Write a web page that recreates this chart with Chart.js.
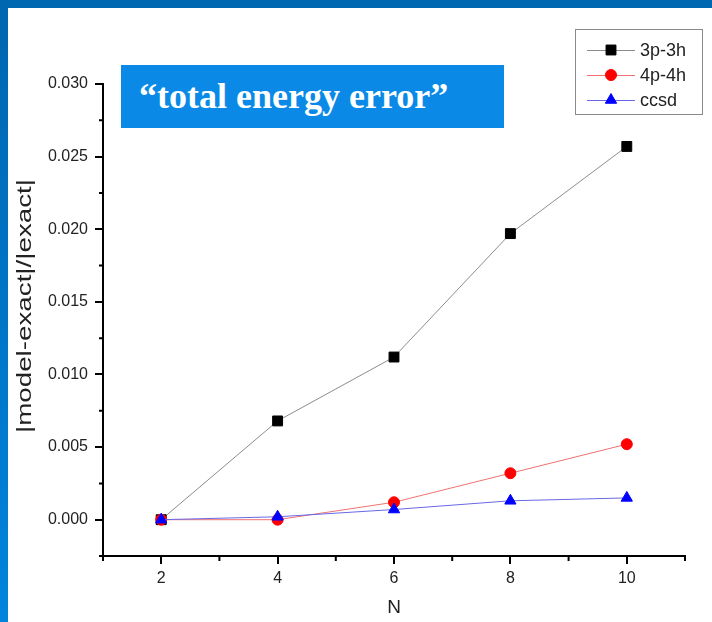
<!DOCTYPE html>
<html>
<head>
<meta charset="utf-8">
<script src="https://cdn.jsdelivr.net/npm/chart.js@4/dist/chart.umd.min.js"></script>
<style>
  html, body { margin: 0; padding: 0; background: #fff; }
  #wrap { position: relative; width: 712px; height: 622px; overflow: hidden; background: #fff; }
  #chart { position: absolute; left: 0; top: 0; }
  .frame-top { position: absolute; left: 0; top: 0; width: 712px; height: 8px; background: #0067b1; }
  .frame-left { position: absolute; left: 0; top: 0; width: 8px; height: 622px; background: linear-gradient(#0066b0, #0084dc); }
  .banner {
    position: absolute; left: 121px; top: 65px; width: 383px; height: 63px;
    background: #0a8ae6; color: #fff;
    font: bold 36px "Liberation Serif", "Times New Roman", serif;
    line-height: 63px; padding-left: 18px; box-sizing: border-box; white-space: nowrap;
  }
</style>
</head>
<body>
<div id="wrap">
  <canvas id="chart" width="712" height="622"></canvas>
  <div class="frame-top"></div>
  <div class="frame-left"></div>
  <div class="banner">“total energy error”</div>
</div>
<script>
const nValues = [2, 4, 6, 8, 10];
const err3p3h = [0.0000, 0.0068, 0.0112, 0.0197, 0.0257];
const err4p4h = [0.0000, 0.0000, 0.0012, 0.0032, 0.0052];
const errCcsd = [0.0000, 0.0002, 0.0007, 0.0013, 0.0015];

const xMajorTicks = [2, 4, 6, 8, 10];
const xMinorTicks = [1, 3, 5, 7, 9, 11];
const yMajorTicks = [0.000, 0.005, 0.010, 0.015, 0.020, 0.025, 0.030];
const yMinorTicks = [-0.0025, 0.0025, 0.0075, 0.0125, 0.0175, 0.0225, 0.0275];
const yTitle = '|model-exact|/|exact|';

const toPoints = (ys) => ys.map((y, i) => ({ x: nValues[i], y }));
const sansFamily = '"Liberation Sans", Arial, sans-serif';
const tickFont = { family: sansFamily, size: 16 };

// short ticks halfway between the labelled ones
const minorTicks = {
  id: 'minorTicks',
  afterDraw(chart) {
    const { ctx, scales: { x, y } } = chart;
    ctx.save();
    ctx.strokeStyle = '#000';
    ctx.lineWidth = 2;
    ctx.beginPath();
    xMinorTicks.forEach((v) => {
      const px = x.getPixelForValue(v);
      ctx.moveTo(px, x.top);
      ctx.lineTo(px, x.top + 5);
    });
    yMinorTicks.forEach((v) => {
      const py = y.getPixelForValue(v);
      ctx.moveTo(y.right, py);
      ctx.lineTo(y.right - 4, py);
    });
    ctx.stroke();
    ctx.restore();
  },
};

// rotated y title, drawn a little wide like the original export
const yAxisTitle = {
  id: 'yAxisTitle',
  afterDraw(chart) {
    const { ctx } = chart;
    ctx.save();
    ctx.translate(25, 306);
    ctx.rotate(-Math.PI / 2);
    ctx.font = `20px ${sansFamily}`;
    const natural = ctx.measureText(yTitle).width;
    ctx.scale(254 / natural, 1);
    ctx.fillStyle = '#222';
    ctx.textAlign = 'center';
    ctx.textBaseline = 'middle';
    ctx.fillText(yTitle, 0, 0);
    ctx.restore();
  },
};

// boxed legend in the top-right corner
const boxedLegend = {
  id: 'boxedLegend',
  afterDraw(chart) {
    const { ctx } = chart;
    const box = { x: 575, y: 29, w: 127, h: 85 };
    ctx.save();
    ctx.fillStyle = '#fff';
    ctx.fillRect(box.x, box.y, box.w, box.h);
    ctx.strokeStyle = '#8a8a8a';
    ctx.lineWidth = 1;
    ctx.strokeRect(box.x + 0.5, box.y + 0.5, box.w, box.h);
    ctx.font = `18px ${sansFamily}`;
    ctx.textBaseline = 'middle';
    chart.data.datasets.forEach((ds, i) => {
      const cy = 50 + i * 25;
      ctx.strokeStyle = ds.borderColor;
      ctx.lineWidth = 1;
      ctx.beginPath();
      ctx.moveTo(587, cy + 0.5);
      ctx.lineTo(635, cy + 0.5);
      ctx.stroke();
      ctx.fillStyle = ds.pointBackgroundColor;
      ctx.strokeStyle = ds.pointBorderColor;
      Chart.helpers.drawPoint(ctx, { pointStyle: ds.pointStyle, radius: ds.pointRadius, borderWidth: 1 }, 611, cy);
      ctx.fillStyle = '#222';
      ctx.fillText(ds.label, 640, cy + 1);
    });
    ctx.restore();
  },
};

new Chart(document.getElementById('chart'), {
  type: 'line',
  data: {
    datasets: [
      {
        label: '3p-3h',
        data: toPoints(err3p3h),
        borderColor: '#8c8c8c',
        borderWidth: 1,
        pointStyle: 'rect',
        pointRadius: 7,
        pointBackgroundColor: '#000',
        pointBorderColor: '#000',
        order: 2,
      },
      {
        label: '4p-4h',
        data: toPoints(err4p4h),
        borderColor: '#f07272',
        borderWidth: 1,
        pointStyle: 'circle',
        pointRadius: 5.5,
        pointBackgroundColor: '#ff0000',
        pointBorderColor: '#ff0000',
        order: 1,
      },
      {
        label: 'ccsd',
        data: toPoints(errCcsd),
        borderColor: '#6868e6',
        borderWidth: 1,
        pointStyle: 'triangle',
        pointRadius: 6.5,
        pointBackgroundColor: '#0000ff',
        pointBorderColor: '#0000ff',
        order: 0,
      },
    ],
  },
  options: {
    responsive: false,
    animation: false,
    layout: { padding: { top: 84, right: 27, left: 0, bottom: 0 } },
    plugins: {
      legend: { display: false },
      tooltip: { enabled: false },
    },
    scales: {
      x: {
        type: 'linear',
        min: 1,
        max: 11,
        afterBuildTicks(scale) {
          scale.ticks = xMajorTicks.map((value) => ({ value }));
        },
        afterFit(scale) {
          scale.height = 66;
        },
        ticks: {
          color: '#222',
          font: tickFont,
          padding: 5,
          maxRotation: 0,
          callback: (v) => String(v),
        },
        grid: { drawOnChartArea: false, drawTicks: true, tickLength: 8, color: '#000', lineWidth: 2 },
        border: { display: true, color: '#000', width: 2 },
        title: {
          display: true,
          text: 'N',
          color: '#222',
          font: { family: sansFamily, size: 19 },
          padding: { top: 0, bottom: 3 },
        },
      },
      y: {
        type: 'linear',
        min: -0.0025,
        max: 0.030,
        afterBuildTicks(scale) {
          scale.ticks = yMajorTicks.map((value) => ({ value }));
        },
        afterFit(scale) {
          scale.width = 103;
        },
        ticks: {
          color: '#222',
          font: tickFont,
          padding: 7,
          callback: (v) => v.toFixed(3),
        },
        grid: { drawOnChartArea: false, drawTicks: true, tickLength: 8, color: '#000', lineWidth: 2 },
        border: { display: true, color: '#000', width: 2 },
      },
    },
  },
  plugins: [minorTicks, yAxisTitle, boxedLegend],
});
</script>
</body>
</html>
